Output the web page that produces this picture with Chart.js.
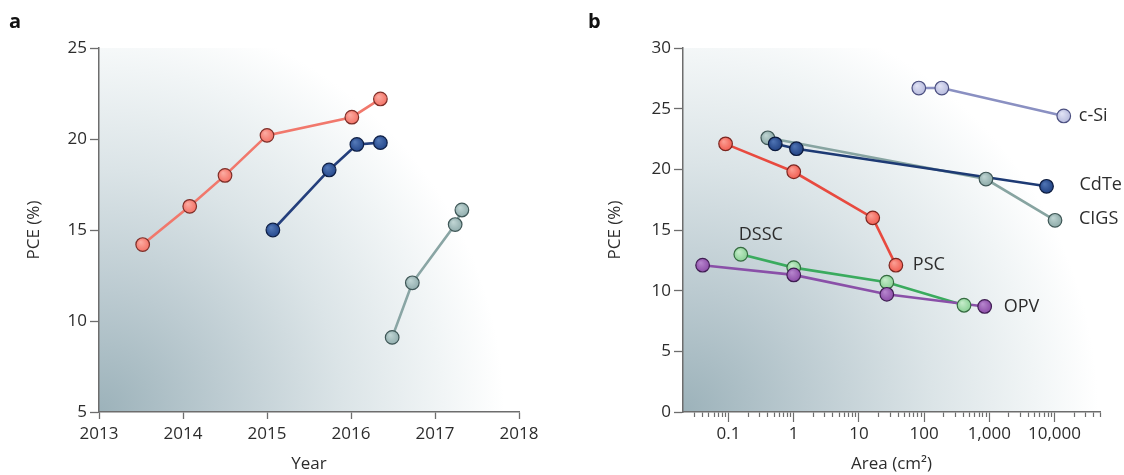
<!DOCTYPE html>
<html>
<head>
<meta charset="utf-8">
<script src="https://cdn.jsdelivr.net/npm/chart.js@4.4.1/dist/chart.umd.min.js"></script>
<style>
  html, body { margin: 0; padding: 0; background: #fff; }
  #wrap { position: relative; width: 1124px; height: 475px; overflow: hidden; }
  .panel { position: absolute; top: 0; }
  .tag { position: absolute; top: 7px; font: 700 20px "Open Sans", sans-serif; color: #111; }
</style>
</head>
<body>
<div id="wrap">
  <canvas id="chartA" class="panel" width="560" height="475" style="left:0"></canvas>
  <canvas id="chartB" class="panel" width="564" height="475" style="left:560px"></canvas>
  <div class="tag" style="left:9px">a</div>
  <div class="tag" style="left:588px">b</div>
</div>
<script>
// ---- Panel a: efficiency versus year ----
const yearTicks = [2013, 2014, 2015, 2016, 2017, 2018];
const yearTickLabels = ['2013', '2014', '2015', '2016', '2017', '2018'];
const pceTicksA = [5, 10, 15, 20, 25];
const pceTickLabelsA = ['5', '10', '15', '20', '25'];

const cellYears = [2013.52, 2014.08, 2014.5, 2015.0, 2016.01, 2016.35];
const cellPce = [14.2, 16.3, 18.0, 20.2, 21.2, 22.2];
const miniModuleYears = [2015.07, 2015.74, 2016.07, 2016.35];
const miniModulePce = [15.0, 18.3, 19.7, 19.8];
const moduleYears = [2016.49, 2016.73, 2017.24, 2017.32];
const modulePce = [9.1, 12.1, 15.3, 16.1];

// ---- Panel b: efficiency versus device area ----
const areaTickValues = [0.1, 1, 10, 100, 1000, 10000];
const areaTickLabels = ['0.1', '1', '10', '100', '1,000', '10,000'];
const pceTicksB = [0, 5, 10, 15, 20, 25, 30];
const pceTickLabelsB = ['0', '5', '10', '15', '20', '25', '30'];

const cSiArea = [83, 187, 13900];
const cSiPce = [26.7, 26.7, 24.4];
const cigsArea = [0.40, 890, 10200];
const cigsPce = [22.6, 19.2, 15.8];
const cdteArea = [0.52, 1.1, 7560];
const cdtePce = [22.1, 21.7, 18.6];
const pscArea = [0.09, 1.0, 16.3, 36.9];
const pscPce = [22.1, 19.8, 16.0, 12.1];
const dsscArea = [0.154, 1.0, 26.8, 410];
const dsscPce = [13.0, 11.9, 10.7, 8.8];
const opvArea = [0.04, 1.0, 26.8, 850];
const opvPce = [12.1, 11.3, 9.7, 8.7];

const FONT = '"Open Sans", "Noto Sans", sans-serif';
const AXIS = '#6d6d6d';
const TEXT = '#2c2c2c';

// shaded sphere fill for each marker
function sphereFill(base, shine) {
  return (ctx) => {
    if (ctx.type !== 'data' || !ctx.parsed) return base;
    const chart = ctx.chart;
    const px = chart.scales.x.getPixelForValue(ctx.parsed.x);
    const py = chart.scales.y.getPixelForValue(ctx.parsed.y);
    if (!isFinite(px) || !isFinite(py)) return base;
    const g = chart.ctx.createRadialGradient(px - 2, py - 2.5, 0.5, px, py, 7.5);
    g.addColorStop(0, shine);
    g.addColorStop(1, base);
    return g;
  };
}

// each series: a line layer (drawn underneath) and a marker layer on top
function buildDatasets(series) {
  const out = [];
  series.forEach((s, k) => {
    const pts = s.x.map((x, i) => ({ x, y: s.y[i] }));
    out.push({
      data: pts, showLine: true, borderColor: s.line, borderWidth: 2.6,
      pointRadius: 0, pointHoverRadius: 0, order: 100 - k
    });
    out.push({
      data: pts, showLine: false, pointRadius: 6.8, pointHoverRadius: 6.8,
      pointBorderWidth: 1.2, pointBorderColor: s.edge,
      pointBackgroundColor: sphereFill(s.fill, s.shine),
      order: 50 - k, seriesLabel: s.label || null
    });
  });
  return out;
}

// radial shading behind the plot area, dark in the lower-left corner
function shadePlugin(radius) {
  return {
    id: 'plotShade',
    beforeDraw(chart) {
      const { ctx, chartArea: a } = chart;
      const g = ctx.createRadialGradient(a.left, a.bottom, 0, a.left, a.bottom, radius);
      g.addColorStop(0, '#9cb2ba');
      g.addColorStop(0.3, '#bccbd1');
      g.addColorStop(0.6, '#dbe4e7');
      g.addColorStop(0.85, '#f1f5f6');
      g.addColorStop(1, '#ffffff');
      ctx.save();
      ctx.fillStyle = g;
      ctx.fillRect(a.left, a.top, a.right - a.left, a.bottom - a.top);
      ctx.restore();
    }
  };
}

// series names written next to a chosen marker
const seriesLabelPlugin = {
  id: 'seriesLabels',
  afterDatasetsDraw(chart) {
    const { ctx } = chart;
    chart.data.datasets.forEach((ds, i) => {
      const lab = ds.seriesLabel;
      if (!lab) return;
      const el = chart.getDatasetMeta(i).data[lab.at];
      if (!el) return;
      ctx.save();
      ctx.font = '18px ' + FONT;
      ctx.fillStyle = TEXT;
      ctx.textAlign = lab.align || 'left';
      ctx.textBaseline = 'middle';
      ctx.fillText(lab.text, el.x + lab.dx, el.y + lab.dy);
      ctx.restore();
    });
  }
};

function fixedTicks(values) {
  return (scale) => { scale.ticks = values.map(v => ({ value: v })); };
}

function yAxis(min, max, values, labels, width, titlePad) {
  return {
    type: 'linear', min, max,
    afterBuildTicks: fixedTicks(values),
    afterFit: (s) => { s.width = width; },
    ticks: { callback: (v, i) => labels[i], color: TEXT, font: { family: FONT, size: 17 }, padding: 3 },
    grid: { drawOnChartArea: false, tickLength: 9, tickColor: AXIS, tickWidth: 1.3 },
    border: { color: AXIS, width: 1.5 },
    title: { display: true, text: 'PCE (%)', color: TEXT, font: { family: FONT, size: 17 }, padding: { top: titlePad, bottom: 0 } }
  };
}

const common = {
  responsive: false,
  animation: false,
  plugins: { legend: { display: false }, tooltip: { enabled: false } },
  events: []
};

// ---- chart a ----
new Chart(document.getElementById('chartA'), {
  type: 'scatter',
  data: {
    datasets: buildDatasets([
      { x: cellYears, y: cellPce, line: '#f1786c', fill: '#f36f63', shine: '#fbaaa0', edge: '#7d2f29' },
      { x: miniModuleYears, y: miniModulePce, line: '#243f7c', fill: '#23468a', shine: '#5378b6', edge: '#0e1f45' },
      { x: moduleYears, y: modulePce, line: '#89a5a4', fill: '#8eabab', shine: '#bfd4d3', edge: '#3f5757' }
    ])
  },
  options: {
    ...common,
    layout: { padding: { top: 48, right: 41, left: 0, bottom: 0 } },
    scales: {
      x: {
        type: 'linear', min: 2013, max: 2018,
        afterBuildTicks: fixedTicks(yearTicks),
        afterFit: (s) => { s.height = 63; },
        ticks: { callback: (v, i) => yearTickLabels[i], color: TEXT, font: { family: FONT, size: 17 }, padding: 5, maxRotation: 0, autoSkip: false },
        grid: { drawOnChartArea: false, tickLength: 7, tickColor: AXIS, tickWidth: 1.3 },
        border: { color: AXIS, width: 1.5 },
        title: { display: true, text: 'Year', color: TEXT, font: { family: FONT, size: 17 }, padding: { top: 0, bottom: 1 } }
      },
      y: yAxis(5, 25, pceTicksA, pceTickLabelsA, 99, 24)
    }
  },
  plugins: [shadePlugin(405)]
});

// ---- chart b ----
const areaMin = 0.02, areaMax = 50000;
function isDecade(v) {
  return areaTickValues.some(t => Math.abs(Math.log10(v) - Math.log10(t)) < 1e-6);
}
function logTicks() {
  const vals = [];
  for (let e = -2; e <= 4; e++) {
    for (let m = 1; m <= 9; m++) {
      const v = Number((m * Math.pow(10, e)).toPrecision(3));
      if (v > areaMin && v <= areaMax) vals.push(v);
    }
  }
  return vals;
}

new Chart(document.getElementById('chartB'), {
  type: 'scatter',
  data: {
    datasets: buildDatasets([
      { x: cSiArea, y: cSiPce, line: '#8a90c2', fill: '#b4b8dc', shine: '#e0e2f4', edge: '#4c5080',
        label: { text: 'c-Si', at: 2, dx: 15, dy: 0 } },
      { x: cigsArea, y: cigsPce, line: '#87a4a1', fill: '#8aa8a6', shine: '#bdd3d1', edge: '#3f5756',
        label: { text: 'CIGS', at: 2, dx: 24, dy: -1 } },
      { x: cdteArea, y: cdtePce, line: '#1d3a74', fill: '#1f3f80', shine: '#4d72b2', edge: '#0b1a3d',
        label: { text: 'CdTe', at: 2, dx: 33, dy: -1 } },
      { x: pscArea, y: pscPce, line: '#e84a3f', fill: '#f05a4e', shine: '#fb9d92', edge: '#7a2620',
        label: { text: 'PSC', at: 3, dx: 17, dy: 0 } },
      { x: dsscArea, y: dsscPce, line: '#3aab5e', fill: '#86cf92', shine: '#c4ebc9', edge: '#356b40',
        label: { text: 'DSSC', at: 0, dx: 20, dy: -19, align: 'center' } },
      { x: opvArea, y: opvPce, line: '#8a50a8', fill: '#8a4aa6', shine: '#b584cc', edge: '#3f1d52',
        label: { text: 'OPV', at: 3, dx: 19, dy: 0 } }
    ])
  },
  options: {
    ...common,
    layout: { padding: { top: 48, right: 24, left: 0, bottom: 0 } },
    scales: {
      x: {
        type: 'logarithmic', min: areaMin, max: areaMax,
        afterBuildTicks: (s) => { s.ticks = logTicks().map(v => ({ value: v })); },
        afterFit: (s) => { s.height = 63; },
        ticks: {
          callback: (v) => {
            const i = areaTickValues.findIndex(t => Math.abs(Math.log10(v) - Math.log10(t)) < 1e-6);
            return i >= 0 ? areaTickLabels[i] : '';
          },
          color: TEXT, font: { family: FONT, size: 17 }, padding: 2, maxRotation: 0, autoSkip: false
        },
        grid: {
          drawOnChartArea: false, tickLength: 10, tickColor: AXIS, tickWidth: 1.2,
          tickBorderDash: (ctx) => (ctx.tick && isDecade(ctx.tick.value)) ? [] : [4.5, 60]
        },
        border: { color: AXIS, width: 1.5 },
        title: { display: true, text: 'Area (cm²)', color: TEXT, font: { family: FONT, size: 17 }, padding: { top: 0, bottom: 1 } }
      },
      y: yAxis(0, 30, pceTicksB, pceTickLabelsB, 123, 45)
    }
  },
  plugins: [shadePlugin(415), seriesLabelPlugin]
});
</script>
</body>
</html>
